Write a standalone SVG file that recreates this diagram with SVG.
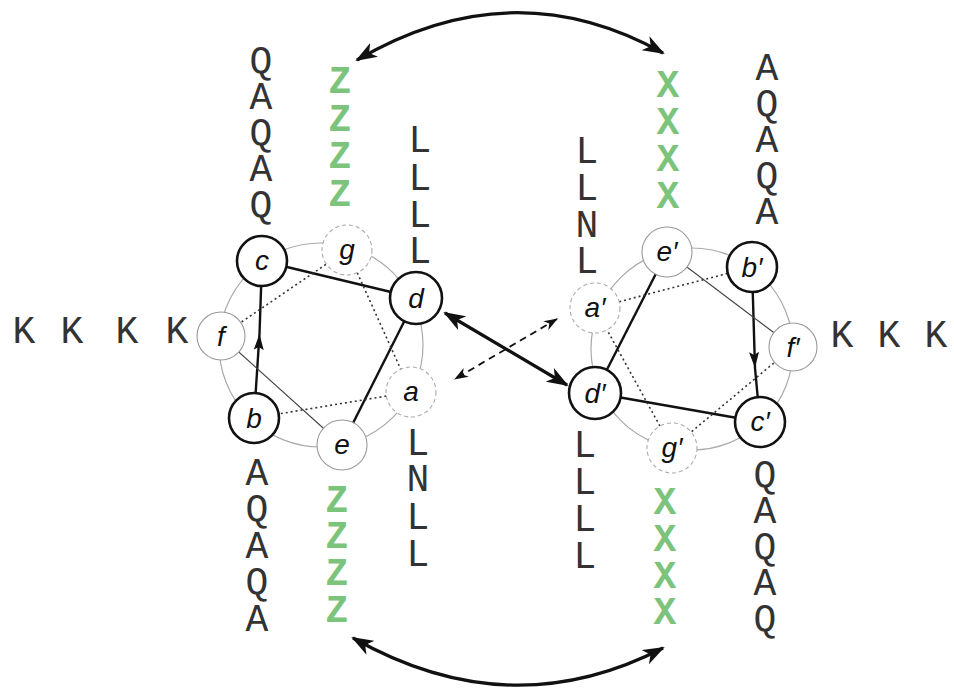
<svg xmlns="http://www.w3.org/2000/svg" width="954" height="688" viewBox="0 0 954 688">
<style>
.seq{font-family:"Liberation Mono","Courier New",monospace;font-size:38px;fill:#333;text-anchor:middle}
.grn{font-family:"Liberation Mono","Courier New",monospace;font-size:38px;font-weight:bold;fill:#7cc47c;text-anchor:middle}
.lbl{font-family:"Liberation Sans",Arial,sans-serif;font-style:italic;font-size:28px;fill:#111;text-anchor:middle}
.wheel{fill:none;stroke:#aaa;stroke-width:1.2}
.thick{fill:#fff;stroke:#111;stroke-width:2.6}
.thin{fill:#fff;stroke:#999;stroke-width:1.1}
.dash{fill:#fff;stroke:#aaa;stroke-width:1.1;stroke-dasharray:4 3}
.solid{stroke:#111;stroke-width:2.4;fill:none}
.fine{stroke:#444;stroke-width:1.2;fill:none}
.dot{stroke:#333;stroke-width:1.6;fill:none;stroke-dasharray:2 3}
.big{stroke:#111;stroke-width:3.2;fill:none}
</style>
<defs>
<marker id="ah" markerUnits="userSpaceOnUse" viewBox="0 0 22 16" markerWidth="22" markerHeight="16" refX="20" refY="8" orient="auto-start-reverse"><path d="M0,0 L22,8 L0,16 L6,8 z" fill="#111"/></marker>
<marker id="ahs" markerUnits="userSpaceOnUse" viewBox="0 0 14 10" markerWidth="14" markerHeight="10" refX="13" refY="5" orient="auto-start-reverse"><path d="M0,0 L14,5 L0,10 L4,5 z" fill="#111"/></marker>
<marker id="ahm" markerUnits="userSpaceOnUse" viewBox="0 0 16 10" markerWidth="16" markerHeight="10" refX="16" refY="5" orient="auto"><path d="M0,0 L16,5 L0,10 L3,5 z" fill="#111"/></marker>
</defs>

<g id="wheels">
<circle class="wheel" cx="321" cy="345" r="102"/>
<circle class="wheel" cx="692" cy="349" r="101"/>
</g>

<g id="connectors">
<path class="solid" d="M254,418 L259.5,334 L262,261" marker-mid="url(#ahm)"/>
<line class="solid" x1="262" y1="261" x2="416" y2="298"/>
<line class="solid" x1="416" y1="298" x2="342" y2="445"/>
<line class="fine" x1="221" y1="336" x2="342" y2="445"/>
<line class="dot" x1="221" y1="336" x2="347" y2="250"/>
<line class="dot" x1="347" y1="250" x2="411" y2="392"/>
<line class="dot" x1="411" y1="392" x2="254" y2="418"/>
<path class="solid" d="M752,267 L755,368 L760,422" marker-mid="url(#ahm)"/>
<line class="solid" x1="760" y1="422" x2="595" y2="393"/>
<line class="solid" x1="595" y1="393" x2="667" y2="252"/>
<line class="fine" x1="667" y1="252" x2="793" y2="347"/>
<line class="dot" x1="793" y1="347" x2="672" y2="448"/>
<line class="dot" x1="672" y1="448" x2="595" y2="308"/>
<line class="dot" x1="595" y1="308" x2="752" y2="267"/>
<path class="big" d="M357,60 Q512,-31 663,53" marker-start="url(#ah)" marker-end="url(#ah)"/>
<path class="big" d="M353,638 Q510,727 663,648" marker-start="url(#ah)" marker-end="url(#ah)"/>
<line class="big" x1="445" y1="313" x2="567" y2="385" marker-start="url(#ah)" marker-end="url(#ah)"/>
<line stroke="#111" stroke-width="1.8" stroke-dasharray="7 5" x1="557" y1="319" x2="455" y2="379" marker-start="url(#ahs)" marker-end="url(#ahs)"/>
</g>

<g id="node-c"><circle class="thick" cx="262" cy="261" r="25"/><text class="lbl" x="262" y="270">c</text></g>
<g id="node-g"><circle class="dash" cx="347" cy="250" r="25"/><text class="lbl" x="347" y="259">g</text></g>
<g id="node-d"><circle class="thick" cx="416" cy="298" r="26"/><text class="lbl" x="416" y="308">d</text></g>
<g id="node-f"><circle class="thin" cx="221" cy="336" r="24"/><text class="lbl" x="221" y="346">f</text></g>
<g id="node-a"><circle class="dash" cx="411" cy="392" r="25"/><text class="lbl" x="411" y="401">a</text></g>
<g id="node-b"><circle class="thick" cx="254" cy="418" r="25"/><text class="lbl" x="254" y="428">b</text></g>
<g id="node-e"><circle class="thin" cx="342" cy="445" r="25"/><text class="lbl" x="342" y="454">e</text></g>

<g id="node-e2"><circle class="thin" cx="667" cy="252" r="25"/><text class="lbl" x="667" y="261">e′</text></g>
<g id="node-b2"><circle class="thick" cx="752" cy="267" r="25"/><text class="lbl" x="752" y="277">b′</text></g>
<g id="node-a2"><circle class="dash" cx="595" cy="308" r="25"/><text class="lbl" x="595" y="317">a′</text></g>
<g id="node-f2"><circle class="thin" cx="793" cy="347" r="24"/><text class="lbl" x="793" y="357">f′</text></g>
<g id="node-d2"><circle class="thick" cx="595" cy="393" r="26"/><text class="lbl" x="595" y="403">d′</text></g>
<g id="node-c2"><circle class="thick" cx="760" cy="422" r="25"/><text class="lbl" x="760" y="431">c′</text></g>
<g id="node-g2"><circle class="dash" cx="672" cy="448" r="25"/><text class="lbl" x="672" y="457">g′</text></g>

<g id="sequences">
<text class="seq"><tspan x="261" y="73">Q</tspan><tspan x="261" y="109">A</tspan><tspan x="261" y="145">Q</tspan><tspan x="261" y="181">A</tspan><tspan x="261" y="217">Q</tspan></text>
<text class="grn"><tspan x="340" y="93">Z</tspan><tspan x="340" y="131">Z</tspan><tspan x="340" y="168">Z</tspan><tspan x="340" y="206">Z</tspan></text>
<text class="seq"><tspan x="420" y="152">L</tspan><tspan x="420" y="190">L</tspan><tspan x="420" y="227">L</tspan><tspan x="420" y="263">L</tspan></text>
<text class="seq"><tspan x="587" y="163">L</tspan><tspan x="587" y="200">L</tspan><tspan x="587" y="237">N</tspan><tspan x="587" y="273">L</tspan></text>
<text class="grn"><tspan x="668" y="97">X</tspan><tspan x="668" y="134">X</tspan><tspan x="668" y="171">X</tspan><tspan x="668" y="208">X</tspan></text>
<text class="seq"><tspan x="767" y="80">A</tspan><tspan x="767" y="116">Q</tspan><tspan x="767" y="152">A</tspan><tspan x="767" y="188">Q</tspan><tspan x="767" y="224">A</tspan></text>

<text class="seq"><tspan x="257" y="485">A</tspan><tspan x="257" y="521">Q</tspan><tspan x="257" y="558">A</tspan><tspan x="257" y="594">Q</tspan><tspan x="257" y="631">A</tspan></text>
<text class="grn"><tspan x="337" y="512">Z</tspan><tspan x="337" y="548">Z</tspan><tspan x="337" y="585">Z</tspan><tspan x="337" y="622">Z</tspan></text>
<text class="seq"><tspan x="418" y="455">L</tspan><tspan x="418" y="491">N</tspan><tspan x="418" y="529">L</tspan><tspan x="418" y="566">L</tspan></text>
<text class="seq"><tspan x="585" y="457">L</tspan><tspan x="585" y="494">L</tspan><tspan x="585" y="531">L</tspan><tspan x="585" y="568">L</tspan></text>
<text class="grn"><tspan x="665" y="514">X</tspan><tspan x="665" y="551">X</tspan><tspan x="665" y="588">X</tspan><tspan x="665" y="624">X</tspan></text>
<text class="seq"><tspan x="765" y="487">Q</tspan><tspan x="765" y="523">A</tspan><tspan x="765" y="559">Q</tspan><tspan x="765" y="595">A</tspan><tspan x="765" y="631">Q</tspan></text>

<text class="seq"><tspan x="24" y="343">K</tspan><tspan x="72" y="343">K</tspan><tspan x="127" y="343">K</tspan><tspan x="177" y="343">K</tspan></text>
<text class="seq"><tspan x="842" y="347">K</tspan><tspan x="889" y="347">K</tspan><tspan x="936" y="347">K</tspan></text>
</g>
</svg>
